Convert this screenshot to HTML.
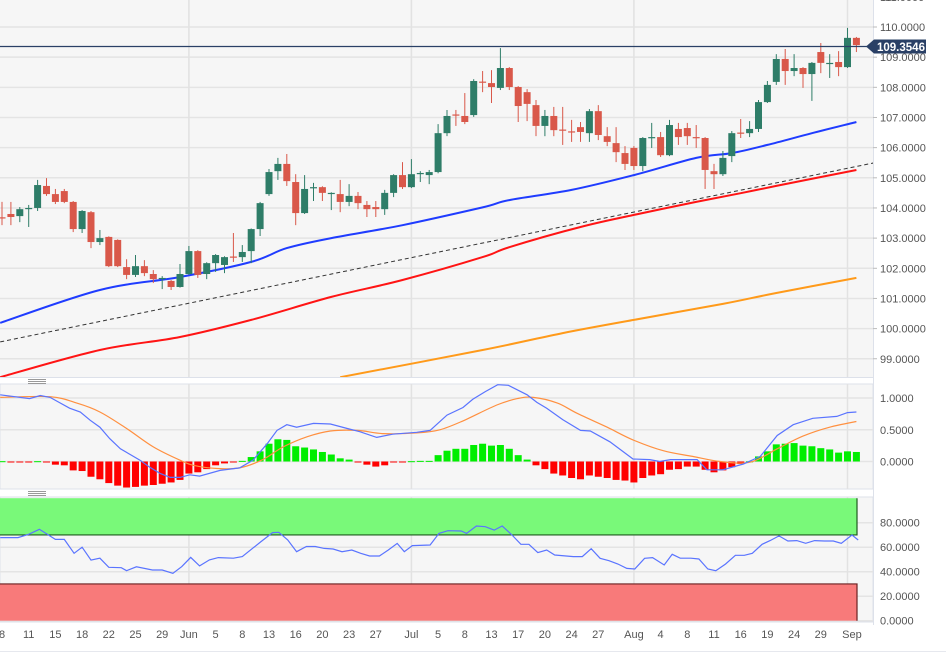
<!DOCTYPE html>
<html><head><meta charset="utf-8">
<style>
html,body{margin:0;padding:0;background:#fff;width:946px;height:657px;overflow:hidden;font-family:"Liberation Sans",sans-serif;}
svg text{font-family:"Liberation Sans",sans-serif;}
</style></head>
<body>
<svg id="chart" width="946" height="657" viewBox="0 0 946 657" xmlns="http://www.w3.org/2000/svg">
  <defs>
    <clipPath id="clipMain"><rect x="0" y="0" width="873" height="377"/></clipPath>
    <clipPath id="clipMacd"><rect x="0" y="384" width="873" height="105"/></clipPath>
  </defs>
  <rect x="0" y="0" width="873" height="377" fill="#f6f6f6"/>
  <rect x="0" y="384" width="873" height="105" fill="#f6f6f6" stroke="#dde1ea"/>
  <rect x="0" y="497" width="873" height="125" fill="#f6f6f6" stroke="#dde1ea"/>
  <line x1="0" y1="377.5" x2="873" y2="377.5" stroke="#dde1ea"/>
  <line x1="873.5" y1="0" x2="873.5" y2="625" stroke="#dde1ea"/>
  <line x1="0" y1="651.5" x2="946" y2="651.5" stroke="#e6e8ee"/>
  <g stroke="#999" stroke-width="1">
    <line x1="28" y1="379.5" x2="46" y2="379.5"/><line x1="28" y1="381.5" x2="46" y2="381.5"/><line x1="28" y1="383.5" x2="46" y2="383.5"/>
  </g>
  <g stroke="#999" stroke-width="1">
    <line x1="28" y1="491.5" x2="46" y2="491.5"/><line x1="28" y1="493.5" x2="46" y2="493.5"/><line x1="28" y1="495.5" x2="46" y2="495.5"/>
  </g>
  <g id="grid"></g>
  <g id="main" clip-path="url(#clipMain)"></g>
  <g id="macd" clip-path="url(#clipMacd)"></g>
  <g id="rsi"></g>
  <g id="axes"></g>
</svg>
<script>
// ---- data ----
const opens=[103.69,103.80,103.73,103.99,104.00,104.73,104.46,104.56,104.20,103.30,103.86,102.87,103.04,102.94,102.04,101.78,102.07,101.81,101.67,101.58,101.38,101.81,102.57,101.81,102.17,102.11,102.39,102.37,102.57,103.30,104.46,105.22,105.46,104.86,103.83,104.68,104.69,104.49,104.46,104.20,104.40,104.10,104.03,103.96,104.50,105.09,104.69,105.15,105.09,105.19,106.48,107.10,107.05,107.08,108.19,108.14,107.98,108.64,108.01,107.84,107.41,106.72,107.05,106.60,106.54,106.68,106.48,107.21,106.38,106.15,105.82,105.99,105.39,106.33,106.35,105.75,106.62,106.65,106.35,106.32,105.22,105.12,105.72,106.50,106.48,106.62,107.51,108.18,108.94,108.54,108.64,108.44,109.17,108.80,108.84,108.67,109.64];
const highs=[104.20,104.20,104.03,104.10,104.93,104.99,104.63,104.63,104.23,103.93,103.90,103.27,103.06,102.96,102.30,102.44,102.27,101.94,101.74,101.61,102.14,102.74,102.60,102.20,102.47,102.40,103.17,102.77,103.32,104.20,105.29,105.66,105.79,105.12,105.09,104.83,104.72,104.52,104.93,104.79,104.53,104.23,104.23,104.60,105.12,105.52,105.62,105.22,105.26,106.78,107.25,107.25,107.81,108.27,108.54,108.57,109.30,108.67,108.04,107.94,107.58,107.25,107.35,107.35,106.92,106.85,107.28,107.41,106.68,106.68,106.05,106.05,106.35,106.82,106.52,106.92,106.82,106.82,106.75,106.35,105.46,105.89,106.55,106.95,106.88,107.58,108.21,109.10,109.27,109.10,108.67,108.84,109.47,109.10,109.20,109.97,109.67];
const lows=[103.43,103.43,103.53,103.37,103.90,104.40,104.13,104.16,103.20,103.17,102.67,102.77,102.04,102.04,101.64,101.71,101.74,101.51,101.31,101.28,101.36,101.78,101.68,101.64,101.88,101.84,102.21,102.21,102.17,103.07,104.40,104.93,104.73,103.43,103.80,104.23,104.23,103.93,103.86,104.06,103.96,103.70,103.70,103.77,104.36,104.63,104.66,104.86,104.79,105.15,106.38,106.72,106.78,107.02,107.84,107.48,107.91,107.91,106.85,106.88,106.38,106.38,106.38,106.09,106.19,106.19,106.19,106.25,106.05,105.52,105.26,105.26,105.22,105.99,105.69,105.72,106.09,106.09,105.99,104.63,104.63,105.06,105.52,106.32,106.35,106.52,107.48,108.08,108.08,108.37,107.98,107.55,108.47,108.31,108.37,108.64,109.17];
const closes=[103.67,103.70,103.96,104.00,104.76,104.46,104.20,104.20,103.30,103.90,102.87,103.00,102.07,102.07,101.78,102.07,101.84,101.64,101.68,101.38,101.81,102.57,101.78,102.17,102.44,102.37,102.37,102.54,103.30,104.16,105.19,105.46,104.89,103.83,104.63,104.69,104.50,104.50,104.20,104.40,104.16,103.96,103.96,104.50,105.09,104.69,105.12,105.16,105.19,106.48,107.05,107.08,106.85,108.21,108.18,108.01,108.64,108.01,107.38,107.45,106.72,107.05,106.58,106.58,106.52,106.52,107.21,106.42,106.19,105.85,105.46,105.39,106.32,106.35,105.75,106.75,106.35,106.38,106.32,105.26,105.12,105.66,106.48,106.48,106.62,107.51,108.08,108.94,108.54,108.64,108.44,108.81,108.81,108.81,108.67,109.64,109.40];
const lastPrice=109.3546;
const priceTicks=[99,100,101,102,103,104,105,106,107,108,109,110,111];
// moving averages (candle index / value samples)
const sma50Idx=[-0.2,11,20,28,32,37,45,54,57,64,71,78,82,86,91,96];
const sma50Val=[100.19,101.28,101.71,102.21,102.67,103.00,103.43,104.02,104.26,104.60,105.09,105.66,105.82,106.09,106.48,106.85];
const sma100Idx=[-0.2,11,20,28,37,45,54,57,65,71,78,83,87,96];
const sma100Val=[98.39,99.29,99.72,100.29,101.05,101.61,102.37,102.70,103.37,103.77,104.20,104.49,104.73,105.26];
const sma200Idx=[38,54,63,71,81,87,96];
const sma200Val=[98.39,99.29,99.85,100.29,100.82,101.18,101.68];
const trendIdx=[-0.2,97.9];
const trendVal=[99.56,105.49];
// MACD
const macdHist=[0.005,-0.005,-0.005,-0.005,0.005,-0.01,-0.05,-0.06,-0.14,-0.15,-0.24,-0.28,-0.34,-0.38,-0.41,-0.40,-0.38,-0.37,-0.35,-0.33,-0.29,-0.19,-0.17,-0.12,-0.06,-0.03,-0.01,0.01,0.07,0.16,0.28,0.35,0.34,0.24,0.22,0.19,0.15,0.11,0.05,0.03,-0.005,-0.05,-0.08,-0.06,-0.01,-0.005,0.005,0.01,0.01,0.10,0.17,0.20,0.20,0.26,0.28,0.25,0.26,0.20,0.10,0.03,-0.06,-0.12,-0.19,-0.22,-0.26,-0.28,-0.22,-0.24,-0.26,-0.29,-0.30,-0.33,-0.26,-0.22,-0.20,-0.13,-0.12,-0.08,-0.08,-0.13,-0.17,-0.14,-0.09,-0.04,0.003,0.08,0.16,0.27,0.28,0.29,0.25,0.24,0.21,0.19,0.14,0.16,0.15];
const macdIdx=[-0.2,3.1,4.3,5.4,7.6,8.8,9.9,11.0,12.1,13.3,14.4,15.5,16.6,17.8,18.9,20.0,21.1,22.2,24.5,26.7,28.2,29.8,30.9,32.0,33.1,35.0,36.9,38.8,40.2,42.1,43.9,46.6,48.1,50.0,51.8,52.9,54.3,55.7,56.9,59.0,60.1,61.2,63.0,65.0,66.1,68.3,70.9,72.8,73.9,75.1,78.1,79.2,81.0,83.3,85.2,87.1,88.9,91.1,93.8,95.0,96.0];
const macdVal=[1.05,0.99,1.04,1.01,0.84,0.78,0.65,0.54,0.36,0.20,0.11,0.02,-0.09,-0.19,-0.25,-0.25,-0.21,-0.23,-0.14,-0.10,0.02,0.28,0.49,0.58,0.54,0.60,0.59,0.52,0.47,0.38,0.43,0.46,0.49,0.73,0.85,0.98,1.10,1.21,1.20,1.05,0.93,0.84,0.66,0.49,0.48,0.31,0.04,0.03,0.00,0.03,0.03,-0.13,-0.13,-0.04,0.08,0.41,0.58,0.68,0.71,0.77,0.78];
const sigIdx=[-0.2,5.4,8.4,11.0,14.0,17.0,20.0,21.5,24.2,26.7,29.3,31.6,34.3,36.9,39.9,42.8,46.6,49.2,51.8,55.6,57.9,59.7,62.4,64.6,68.0,70.9,74.3,77.6,80.7,84.1,87.1,90.0,93.0,96.0];
const sigVal=[1.01,1.02,0.92,0.78,0.52,0.23,0.02,-0.06,-0.11,-0.10,0.03,0.23,0.39,0.48,0.49,0.44,0.45,0.50,0.64,0.89,0.99,1.01,0.92,0.76,0.54,0.34,0.17,0.08,0.00,-0.01,0.20,0.40,0.54,0.63];
const macdTicks=[0,0.5,1.0];
// RSI
const rsiIdx=[-0.2,1.8,3.0,4.2,6.0,7.0,8.1,9.0,10.0,11.0,12.0,13.4,14.0,15.1,16.9,18.0,19.2,20.2,21.2,22.2,23.3,24.3,26.0,27.0,29.1,30.4,31.1,32.1,33.1,34.2,35.2,36.2,37.2,38.2,39.3,40.3,41.3,42.4,43.4,44.4,45.2,46.1,48.1,49.1,50.1,51.6,52.2,53.3,54.3,55.3,56.2,57.3,58.3,59.2,60.2,61.2,62.1,64.2,65.2,66.2,67.2,68.2,69.2,70.2,71.1,72.2,73.1,74.4,75.3,76.2,77.4,78.3,79.3,80.2,81.3,82.4,83.4,84.3,85.4,86.3,87.3,88.3,89.3,90.3,91.3,92.4,93.4,94.3,95.5,96.2];
const rsiVal=[67.8,67.8,70.5,74.6,66.4,66.4,55,60,49.5,51,43.6,43.3,40.8,44,41.4,41.4,38.7,44.2,51.7,44.7,49.6,51.5,51,52.3,64.6,71.9,72.2,66,56.3,60.6,60.6,59,58.5,56.3,57.7,55,52.8,52.8,57.7,63.1,56.3,61.3,61.8,71.3,73.5,73.2,71.3,77.3,76.7,74,77.3,70,62.4,62.4,55.6,57.7,53.6,52.3,52.3,58.8,50.9,49,46.3,42.7,42.2,50.9,51.5,45.5,54.2,51,51,50.4,42.2,40.8,46.3,53.4,53.4,55,62.4,65.4,69.2,65.1,65.4,63.2,65.4,65.1,65.1,63.2,70,65.9];
const rsiTicks=[0,20,40,60,80];
const dateLabels=["8","11","15","18","22","25","29","Jun","5","8","13","16","20","23","27","Jul","5","8","13","17","20","24","27","Aug","4","8","11","16","19","24","29","Sep"];
const dateIdx=[0,3,6,9,12,15,18,21,24,27,30,33,36,39,42,46,49,52,55,58,61,64,67,71,74,77,80,83,86,89,92,95.5];
const monthIdx=[21,46,71,95];

// ---- scales ----
const NS="http://www.w3.org/2000/svg";
const xOf=i=>2+i*8.9;
const yP=p=>27+(110-p)*30.16;
const yM=v=>461.5-v*63.5;
const yR=v=>620.7-v*1.225;
function mk(tag,attrs,parent){const e=document.createElementNS(NS,tag);for(const k in attrs)e.setAttribute(k,attrs[k]);parent.appendChild(e);return e;}
const grid=document.getElementById('grid'),main=document.getElementById('main'),macd=document.getElementById('macd'),rsi=document.getElementById('rsi'),axes=document.getElementById('axes');

// grids
priceTicks.forEach(p=>{
  const g=mk('line',{x1:0,x2:873,y1:yP(p),y2:yP(p),stroke:'#e4e4e4','stroke-width':1.5},grid);
  
  
  const t=mk('text',{x:880,y:yP(p)+4,'font-size':11,fill:'#555'},axes);
  
  
  t.textContent=p.toFixed(4);
  const tk=mk('line',{x1:873,x2:877,y1:yP(p),y2:yP(p),stroke:'#bbb'},axes);
  
  
});
macdTicks.forEach(v=>{
  const g=mk('line',{x1:0,x2:873,y1:yM(v),y2:yM(v),stroke:'#e4e4e4','stroke-width':1.5},grid);
  
  
  const t=mk('text',{x:880,y:yM(v)+4,'font-size':11,fill:'#555'},axes);
  
  
  t.textContent=v.toFixed(4);
});
rsiTicks.forEach(v=>{
  const g=mk('line',{x1:0,x2:873,y1:yR(v),y2:yR(v),stroke:'#e4e4e4','stroke-width':1.5},grid);
  
  
  const t=mk('text',{x:880,y:yR(v)+4,'font-size':11,fill:'#555'},axes);
  
  
  t.textContent=v.toFixed(4);
});
monthIdx.forEach(i=>{
  [[0,377],[384,489],[497,622]].forEach(r=>{
    const l=mk('line',{x1:xOf(i),x2:xOf(i),y1:r[0],y2:r[1],stroke:'#e2e2e2','stroke-width':1.5},grid);
    
    
  });
});
dateLabels.forEach((s,k)=>{
  const t=mk('text',{x:xOf(dateIdx[k]),y:638,'font-size':11,fill:'#555','text-anchor':'middle'},axes);
  
  
  t.textContent=s;
});

// lines helper
function poly(idx,val,yf,attrs,parent,name){
  const pts=idx.map((i,k)=>xOf(i).toFixed(1)+','+yf(val[k]).toFixed(1)).join(' ');
  const p=mk('polyline',Object.assign({points:pts,fill:'none'},attrs),parent);
  
  
  return p;
}
function smooth(idx,val,yf,attrs,parent,name){
  const P=idx.map((i,k)=>[xOf(i),yf(val[k])]);
  let d='M'+P[0][0].toFixed(1)+','+P[0][1].toFixed(1);
  for(let k=0;k<P.length-1;k++){
    const p0=P[Math.max(0,k-1)],p1=P[k],p2=P[k+1],p3=P[Math.min(P.length-1,k+2)];
    const c1x=p1[0]+(p2[0]-p0[0])/6,c1y=p1[1]+(p2[1]-p0[1])/6;
    const c2x=p2[0]-(p3[0]-p1[0])/6,c2y=p2[1]-(p3[1]-p1[1])/6;
    d+=' C'+c1x.toFixed(1)+','+c1y.toFixed(1)+' '+c2x.toFixed(1)+','+c2y.toFixed(1)+' '+p2[0].toFixed(1)+','+p2[1].toFixed(1);
  }
  const p=mk('path',Object.assign({d:d,fill:'none'},attrs),parent);
  
  
  return p;
}
smooth(sma200Idx,sma200Val,yP,{stroke:'#ff9a1a','stroke-width':2},main,'sma-200-line');
smooth(sma100Idx,sma100Val,yP,{stroke:'#ff1414','stroke-width':2},main,'sma-100-line');
poly(trendIdx,trendVal,yP,{stroke:'#333','stroke-width':1,'stroke-dasharray':'4,3'},main,'trend-line');
smooth(sma50Idx,sma50Val,yP,{stroke:'#1f3cff','stroke-width':2},main,'sma-50-line');

// candles
for(let i=0;i<opens.length;i++){
  const up=closes[i]>=opens[i];
  const col=up?'#2e7d68':'#d9584a';
  const x=xOf(i);
  const w=mk('line',{x1:x,x2:x,y1:yP(highs[i]),y2:yP(lows[i]),stroke:col,'stroke-width':1},main);
  
  
  const top=yP(Math.max(opens[i],closes[i])),bot=yP(Math.min(opens[i],closes[i]));
  const b=mk('rect',{x:x-3.5,y:top,width:7,height:Math.max(1.2,bot-top),fill:col},main);
  
  
}
// last price line & label
const lp=mk('line',{x1:0,x2:873,y1:yP(lastPrice),y2:yP(lastPrice),stroke:'#2a4066','stroke-width':1.2},axes);


const ly=yP(lastPrice);
const lb=mk('polygon',{points:`866,${ly} 874,${ly-7} 926,${ly-7} 926,${ly+7} 874,${ly+7}`,fill:'#2a4066'},axes);


const lt=mk('text',{x:877,y:ly+4.5,'font-size':11.5,'font-weight':'bold',fill:'#fff'},axes);


lt.textContent=lastPrice.toFixed(4);

// MACD histogram
macdHist.forEach((v,i)=>{
  const y0=yM(0),y1=yM(v);
  const r=mk('rect',{x:xOf(i)-3.5,y:Math.min(y0,y1),width:7,height:Math.max(1,Math.abs(y1-y0)),fill:v>=0?'#00ee00':'#ff0000'},macd);
  
  
});
smooth(sigIdx,sigVal,yM,{stroke:'#ff9040','stroke-width':1.2},macd,'macd-signal-line');
poly(macdIdx,macdVal,yM,{stroke:'#5a74ff','stroke-width':1.2},macd,'macd-line');

// RSI bands
const gb=mk('rect',{x:0,y:yR(100),width:857,height:yR(70)-yR(100),fill:'#79f979'},rsi);


const gl=mk('polyline',{points:`0,${yR(70)} 857,${yR(70)} 857,${yR(100)}`,fill:'none',stroke:'#1f5a1f','stroke-width':1.2},rsi);


const rb=mk('rect',{x:0,y:yR(30),width:857,height:yR(0)-yR(30),fill:'#f87a7a'},rsi);


const rl=mk('polyline',{points:`0,${yR(30)} 857,${yR(30)} 857,${yR(0)}`,fill:'none',stroke:'#6a2020','stroke-width':1.2},rsi);


poly(rsiIdx,rsiVal,yR,{stroke:'#5a74ff','stroke-width':1.2},rsi,'rsi-line');
</script>
</body></html>
